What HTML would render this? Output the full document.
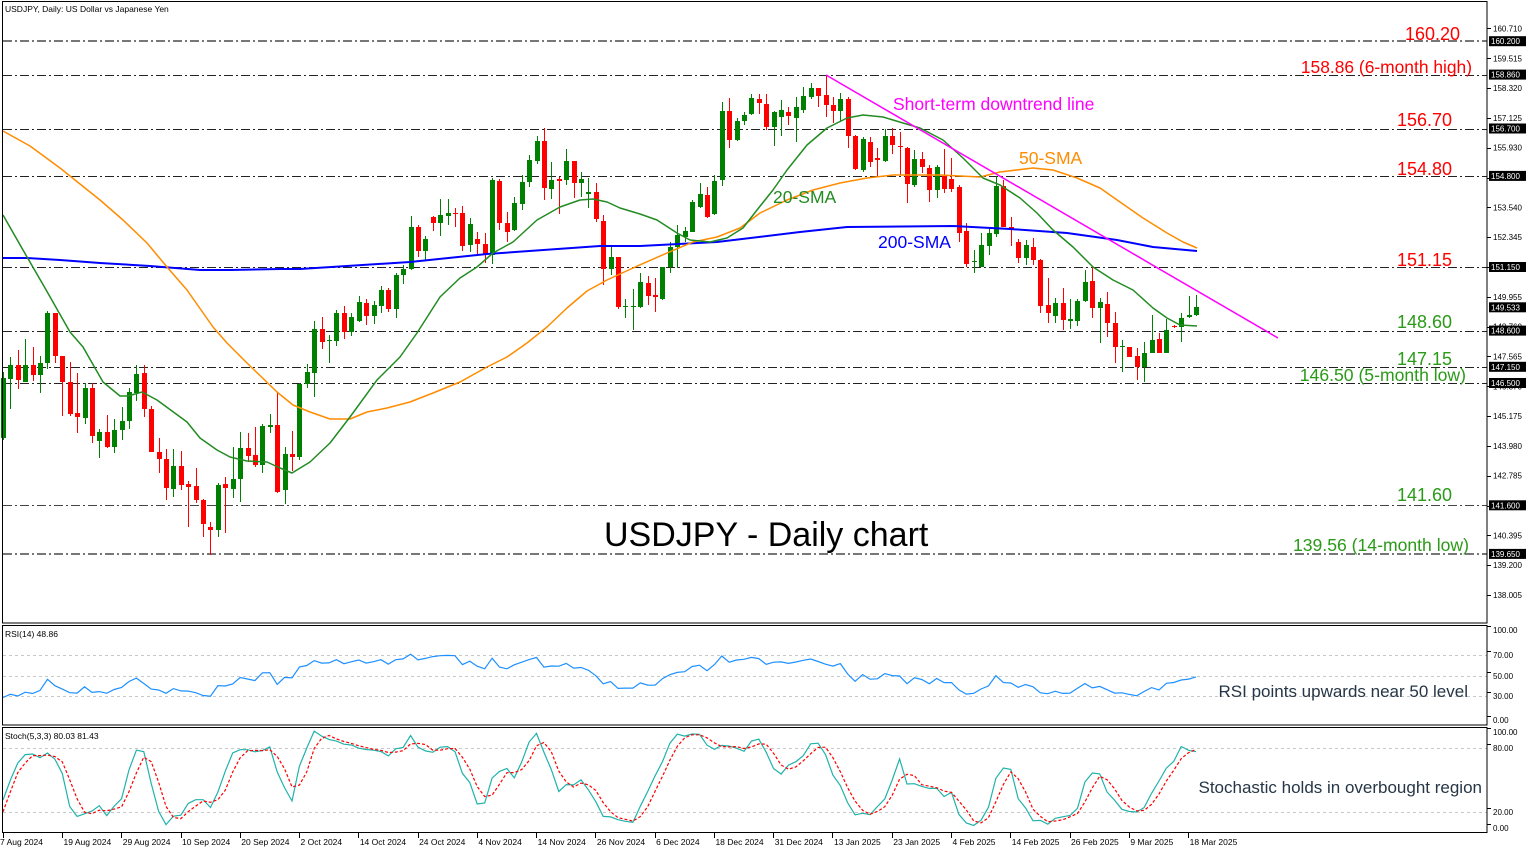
<!DOCTYPE html>
<html><head><meta charset="utf-8">
<style>
html,body{margin:0;padding:0;background:#fff;}
svg{display:block;font-family:"Liberation Sans",Arial,sans-serif;}
</style></head>
<body>
<svg id="c" xmlns="http://www.w3.org/2000/svg" width="1536" height="852" viewBox="0 0 1536 852">
<rect x="0" y="0" width="1536" height="852" fill="#fff"/>
<g id="levels"></g>
<g id="candles"></g>
<g id="smas"></g>
<g id="ind"></g>
<g id="frames" fill="none" stroke="#000" stroke-width="1">
  <rect x="2.5" y="1.5" width="1484.5" height="621.5"/>
  <rect x="2.5" y="625.5" width="1484.5" height="99.5"/>
  <rect x="2.5" y="727.5" width="1484.5" height="105"/>
</g>
<g id="axis" font-size="8px" fill="#000"></g>
<g id="texts">
  <text x="5" y="12" font-size="8.5px" fill="#000">USDJPY, Daily:  US Dollar vs Japanese Yen</text>
  <text x="5" y="637" font-size="8.5px" fill="#000">RSI(14) 48.86</text>
  <text x="5" y="739" font-size="8.5px" fill="#000">Stoch(5,3,3) 80.03 81.43</text>

  <text x="1405" y="40" font-size="18px" fill="#ff0000">160.20</text>
  <text x="1472" y="73" font-size="17.4px" fill="#ff0000" text-anchor="end">158.86 (6-month high)</text>
  <text x="1397" y="126" font-size="18px" fill="#ff0000">156.70</text>
  <text x="1397" y="175" font-size="18px" fill="#ff0000">154.80</text>
  <text x="1397" y="266" font-size="18px" fill="#ff0000">151.15</text>
  <text x="1397" y="328" font-size="18px" fill="#2a9a18">148.60</text>
  <text x="1397" y="365" font-size="18px" fill="#2a9a18">147.15</text>
  <text x="1466" y="381" font-size="17.6px" fill="#2a9a18" text-anchor="end">146.50 (5-month low)</text>
  <text x="1397" y="501" font-size="18px" fill="#2a9a18">141.60</text>
  <text x="1469" y="551" font-size="17.6px" fill="#2a9a18" text-anchor="end">139.56 (14-month low)</text>

  <text x="893" y="110" font-size="17.5px" fill="#ff00ff">Short-term downtrend line</text>
  <text x="1019" y="164" font-size="17.5px" fill="#ff8c00">50-SMA</text>
  <text x="773" y="203" font-size="17.5px" fill="#228b22">20-SMA</text>
  <text x="878" y="248" font-size="17.5px" fill="#0000ff">200-SMA</text>
  <text x="604" y="546" font-size="34px" fill="#000">USDJPY - Daily chart</text>

  <text x="1468" y="697" font-size="17px" fill="#263646" text-anchor="end">RSI points upwards near 50 level</text>
  <text x="1482" y="793" font-size="17px" fill="#263646" text-anchor="end">Stochastic holds in overbought region</text>
</g>
</svg>
<script>
(function(){
var NS="http://www.w3.org/2000/svg";
function el(parent,tag,attrs,txt){var e=document.createElementNS(NS,tag);for(var k in attrs)e.setAttribute(k,attrs[k]);if(txt!==undefined)e.textContent=txt;document.getElementById(parent).appendChild(e);return e;}
var Y=function(p){return 267-(p-151.15)*24.95;};
var P=function(y){return 151.15-(y-267)/24.95;};
var X=function(i){return 3.0+7.41*i;};

// levels
var lv=[[160.2,'#777',2],[158.86,'#222',1],[156.7,'#222',1],[154.8,'#222',1],[151.15,'#222',1],[148.6,'#222',1],[147.15,'#222',1],[146.5,'#222',1],[141.6,'#444',1],[139.65,'#777',2]];
lv.forEach(function(l){var y=Math.round(Y(l[0]))+(l[2]==1?0.5:0);el('levels','line',{x1:3,x2:1487,y1:y,y2:y,stroke:l[1],'stroke-width':l[2],'stroke-dasharray':'9,3,2,3'});});

// candles: [color, bodyTop, bodyBot, wickTop, wickBot]
var B=[
['g',378,438,372,440],['g',365,379,357,409],['r',365,380,350,389],['g',365,382,339,382],['r',365,375,347,381],
['g',363,375,356,393],['g',313,363,311,369],['r',313,356,313,363],['r',356,382,356,416],['r',382,414,362,416],
['r',413,417,373,433],['g',388,418,383,424],['r',388,436,383,443],['g',432,441,429,458],['r',432,447,415,448],
['g',430,447,419,453],['g',421,430,407,440],['g',392,421,388,429],['g',374,393,365,401],['r',373,409,365,417],
['r',409,452,406,452],['r',452,459,438,473],['r',459,488,449,500],['g',466,489,449,497],['r',466,485,451,490],
['r',484,487,481,527],['r',486,500,468,503],['r',500,524,499,537],['r',527,530,522,555],['g',485,530,483,537],
['r',484,488,477,533],['g',479,489,447,498],['g',448,479,432,502],['r',448,456,433,462],['r',455,465,427,467],
['g',426,465,424,473],['g',425,427,414,433],['r',425,492,392,493],['g',454,490,447,504],['r',454,457,431,471],
['g',384,457,383,460],['g',372,384,364,388],['g',329,373,321,397],['r',329,342,317,349],['g',340,341,335,363],
['g',313,341,310,346],['r',313,332,306,339],['g',317,332,313,336],['g',302,321,296,322],['r',303,316,299,325],
['g',305,316,301,324],['g',290,306,286,313],['r',290,309,288,312],['g',275,309,273,318],['g',269,275,265,284],
['g',227,269,216,270],['r',227,251,225,257],['g',239,251,236,260],['r',217,223,216,231],['g',215,223,199,236],
['g',213,216,199,225],['r',213,214,208,227],['r',213,246,206,251],['g',224,245,218,252],['r',239,244,232,255],
['r',244,255,233,263],['g',180,255,178,264],['r',181,223,179,230],['r',223,232,212,242],['g',203,230,197,231],
['g',182,204,175,210],['g',160,182,155,187],['g',141,161,136,164],['r',141,188,128,200],['g',180,189,162,199],
['r',179,181,177,214],['g',161,180,149,185],['r',161,183,161,198],['g',179,183,172,197],['g',192,194,178,208],
['r',192,219,183,222],['r',221,269,215,285],['g',257,269,247,275],['r',257,307,257,309],['g',306,307,299,318],
['g',306,307,289,330],['g',282,307,273,308],['r',283,296,276,305],['r',295,297,278,312],['g',267,299,267,300],
['g',247,267,242,273],['g',235,247,225,268],['g',231,237,227,242],['g',202,232,200,232],['g',194,207,183,208],
['r',195,217,187,218],['g',181,214,175,215],['g',111,180,102,186],['r',111,140,98,148],['g',121,140,118,141],
['g',115,121,112,125],['g',98,114,94,115],['r',99,103,94,114],['r',104,127,94,130],['g',112,127,111,146],
['g',110,117,100,136],['r',112,116,107,125],['g',107,118,97,142],['g',96,110,87,113],['g',88,97,83,99],
['r',88,96,88,107],['r',95,105,75,117],['r',105,111,97,123],['g',99,111,93,121],['r',99,136,97,148],
['r',136,169,135,170],['g',139,170,137,172],['r',142,162,137,167],['r',158,160,148,176],['g',136,161,129,162],
['r',136,145,128,154],['r',146,147,132,175],['r',148,184,147,203],['g',159,185,150,187],['r',159,167,152,173],
['r',168,190,165,202],['g',167,190,165,198],['r',176,189,149,193],['r',179,189,158,192],['r',187,233,185,242],
['r',231,264,223,267],['g',261,262,250,273],['g',245,267,233,267],['g',233,246,228,255],['g',186,234,176,237],
['r',186,227,180,227],['r',227,229,217,246],['r',242,258,239,263],['g',245,258,240,265],['r',247,260,238,265],
['r',260,306,259,313],['r',305,313,278,323],['g',303,316,298,323],['r',303,320,288,330],['g',319,321,299,329],
['g',301,321,299,326],['g',282,301,270,302],['r',281,308,267,318],['g',302,308,298,343],['r',304,323,292,337],
['r',323,347,312,363],['g',346,347,340,372],['r',347,357,347,357],['r',356,367,348,380],['g',353,367,342,382],
['g',340,353,315,353],['r',339,353,333,353],['g',330,353,319,353],['r',326,327,325,328],['g',318,327,313,342],
['g',315,317,296,318],['g',307,315,295,316]
];
B.forEach(function(b,i){
  var x=Math.round(X(i));var col=b[0]=='g'?'#008000':'#ff0000';
  el('candles','line',{x1:x+0.5,x2:x+0.5,y1:b[3],y2:b[4],stroke:col,'stroke-width':1});
  var h=Math.max(1,b[2]-b[1]);
  el('candles','rect',{x:x-2,y:b[1],width:5,height:h,fill:col});
});

// SMAs
function pl(pts,col,w){el('smas','polyline',{points:pts.map(function(p){return p.join(',');}).join(' '),fill:'none',stroke:col,'stroke-width':w,'stroke-linejoin':'round'});}
pl([[3,258],[27,258],[60,260],[100,263],[150,266],[200,270],[230,270],[280,269],[300,269],[410,262],[487,254],[600,246],[640,246],[717,242],[800,232],[847,227],[953,226],[1010,229],[1067,233],[1117,240],[1153,247],[1197,251]],'#0000ff',2);
pl([[3,131],[30,146],[60,168],[100,200],[123,220],[147,243],[167,267],[187,290],[213,327],[227,343],[247,363],[277,392],[293,405],[310,412],[330,419],[350,419],[367,412],[387,408],[410,402],[433,393],[460,382],[487,367],[507,357],[527,343],[547,327],[567,308],[587,291],[607,280],[633,268],[667,253],[693,242],[717,237],[740,228],[760,213],[787,200],[813,190],[840,183],[867,178],[893,175],[940,175],[980,177],[1000,172],[1033,168],[1053,170],[1077,178],[1100,188],[1120,202],[1143,218],[1167,233],[1183,242],[1197,248]],'#ff8c00',1.5);
pl([[3,215],[23,250],[45,288],[70,332],[83,347],[103,382],[120,396],[128,396],[142,392],[157,400],[187,422],[200,438],[217,450],[230,457],[247,461],[267,462],[280,468],[292,473],[310,462],[330,443],[350,417],[377,380],[400,357],[417,333],[440,297],[460,278],[477,267],[493,253],[513,242],[537,220],[560,207],[580,200],[593,199],[607,202],[620,208],[640,214],[657,220],[677,233],[690,240],[710,242],[727,238],[743,228],[757,210],[773,190],[787,170],[807,145],[827,128],[847,118],[863,115],[883,117],[903,123],[920,128],[943,140],[963,158],[983,178],[1000,185],[1020,198],[1037,213],[1053,230],[1073,247],[1093,267],[1113,280],[1133,290],[1153,308],[1167,318],[1180,325],[1197,326]],'#228b22',1.5);
el('smas','line',{x1:826,y1:75,x2:1278,y2:338,stroke:'#ff00ff','stroke-width':1.5});

// indicator levels
[[70,'r'],[50,'r'],[30,'r'],[80,'s'],[20,'s']].forEach(function(l){
  var y=l[1]=='r'?727-l[0]*1.025:833-l[0]*1.06;y=Math.round(y)+0.5;
  el('ind','line',{x1:3,x2:1487,y1:y,y2:y,stroke:'#c8c8c8','stroke-width':1,'stroke-dasharray':'3,3'});
});
// RSI
var C=B.map(function(b){return P(b[0]=='g'?b[1]:b[2]);});
var H=B.map(function(b){return P(b[3]);}),L=B.map(function(b){return P(b[4]);});
var ag=0.25,al=0.62,rsi=[100-100/(1+ag/al)];
for(var i=1;i<C.length;i++){var d=C[i]-C[i-1];ag=(ag*13+Math.max(d,0))/14;al=(al*13+Math.max(-d,0))/14;rsi.push(100-100/(1+ag/al));}
el('ind','polyline',{points:rsi.map(function(r,i){return X(i).toFixed(1)+','+(727-r*1.025).toFixed(1);}).join(' '),fill:'none',stroke:'#1e90ff','stroke-width':1.2});
// Stoch
var K=[],D=[];
for(var i=0;i<C.length;i++){var num=0,den=0;for(var j=Math.max(0,i-2);j<=i;j++){var ll=1e9,hh=-1e9;for(var k=Math.max(0,j-4);k<=j;k++){ll=Math.min(ll,L[k]);hh=Math.max(hh,H[k]);}num+=C[j]-ll;den+=hh-ll;}K.push(den>0?100*num/den:50);}
var K0=[31,50,66,74,74.5,71,75.5];for(var i=0;i<K0.length;i++)K[i]=K0[i];
for(var i=0;i<K.length;i++){var s=0,n=0;for(var j=Math.max(0,i-2);j<=i;j++){s+=K[j];n++;}D.push(s/n);}
var D0=[20,39,57,66,73,73,73.5];for(var i=0;i<D0.length;i++)D[i]=D0[i];
el('ind','polyline',{points:K.map(function(r,i){return X(i).toFixed(1)+','+(833-r*1.06).toFixed(1);}).join(' '),fill:'none',stroke:'#20b2aa','stroke-width':1.2});
el('ind','polyline',{points:D.map(function(r,i){return X(i).toFixed(1)+','+(833-r*1.06).toFixed(1);}).join(' '),fill:'none',stroke:'#ff0000','stroke-width':1.2,'stroke-dasharray':'3,2'});

// right axis
for(var p=160.71;p>137.9;p-=1.195){var y=Y(p);el('axis','line',{x1:1487,x2:1491,y1:Math.round(y)+0.5,y2:Math.round(y)+0.5,stroke:'#000'});el('axis','text',{x:1493,y:(y+3).toFixed(1)},p.toFixed(3));}
[160.2,158.86,156.7,154.8,151.15,149.533,148.6,147.15,146.5,141.6,139.65].forEach(function(p){var y=Y(p);el('axis','rect',{x:1489,y:(y-5).toFixed(1),width:37,height:10,fill:'#000'});el('axis','text',{x:1491,y:(y+3).toFixed(1),fill:'#fff'},p.toFixed(3));});
[[100,630],[70,655],[50,676],[30,696],[0,720]].forEach(function(a){el('axis','line',{x1:1487,x2:1491,y1:a[1]-3.5,y2:a[1]-3.5,stroke:'#000'});el('axis','text',{x:1493,y:a[1]+3},a[0].toFixed(2));});
[[100,732],[80,748],[20,812],[0,828]].forEach(function(a){el('axis','line',{x1:1487,x2:1491,y1:a[1]-3.5,y2:a[1]-3.5,stroke:'#000'});el('axis','text',{x:1493,y:a[1]+3},a[0].toFixed(2));});
// dates
var dates=['7 Aug 2024','19 Aug 2024','29 Aug 2024','10 Sep 2024','20 Sep 2024','2 Oct 2024','14 Oct 2024','24 Oct 2024','4 Nov 2024','14 Nov 2024','26 Nov 2024','6 Dec 2024','18 Dec 2024','31 Dec 2024','13 Jan 2025','23 Jan 2025','4 Feb 2025','14 Feb 2025','26 Feb 2025','9 Mar 2025','18 Mar 2025'];
dates.forEach(function(d,k){var x=2.7+59.27*k;var xr=Math.round(x)+0.5;el('axis','line',{x1:xr,x2:xr,y1:833,y2:838,stroke:'#000'});el('axis','text',{x:k==0?0:x+1.5,y:845,'font-size':'8.5px'},d);});
})();
</script>
</body></html>
